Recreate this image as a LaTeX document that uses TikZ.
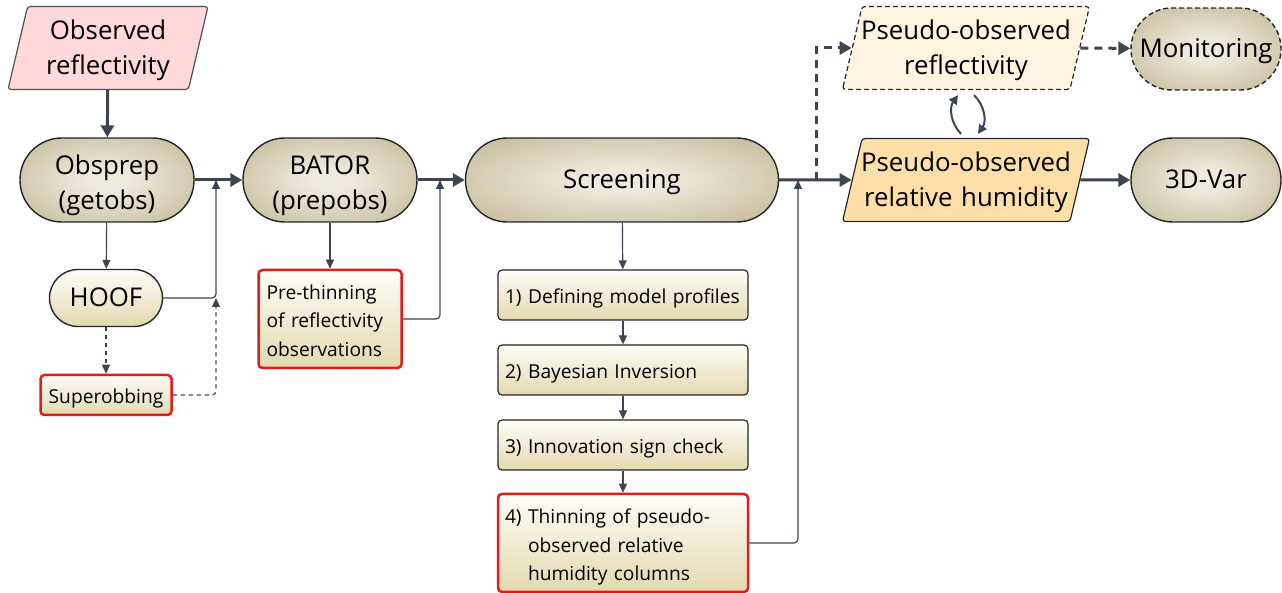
\documentclass[tikz,border=0pt]{standalone}
\usepackage{fontspec}
\setmainfont{Open Sans}
\usetikzlibrary{arrows.meta,shapes.geometric}

\definecolor{lineclr}{HTML}{3E4452}
\definecolor{edgeclr}{HTML}{262626}
\definecolor{obsfill}{HTML}{FFD8DA}
\definecolor{reflfill}{HTML}{FFF4DF}
\definecolor{rhfill}{HTML}{FFDFA8}
\definecolor{olivein}{HTML}{EFEADE}
\definecolor{oliveout}{HTML}{ADA171}
\definecolor{boxtop}{HTML}{FEFDF8}
\definecolor{boxbot}{HTML}{E3D9B0}
\definecolor{redclr}{HTML}{E31B1D}

\pgfdeclareradialshading{olive}{\pgfpoint{0bp}{0bp}}{color(0bp)=(olivein); color(6bp)=(olivein); color(50bp)=(oliveout); color(72bp)=(oliveout)}

\tikzset{
  bigtext/.style={font=\fontsize{12.9}{17.5}\selectfont,
    execute at begin node={\rule{0pt}{13pt}}, execute at end node={\rule[-4pt]{0pt}{4pt}}},
  twoline/.style={text width=80pt, align=center},
  smalltext/.style={font=\fontsize{9.6}{14.25}\selectfont,
    execute at begin node={\rule{0pt}{12.4pt}}, execute at end node={\rule[-3.5pt]{0pt}{3.5pt}}},
  slant/.style={trapezium, trapezium left angle=75, trapezium right angle=105,
    trapezium stretches body, minimum width=123.5pt, minimum height=41.5pt, inner xsep=-6pt, inner ysep=1pt,
    draw=edgeclr, line width=0.6pt, rounded corners=1.5pt, bigtext, twoline, text width=110pt},
  dashline/.style={dash pattern=on 2.5pt off 1.5pt},
  stadium/.style={rectangle, draw=edgeclr, line width=0.7pt, shading=olive, rounded corners=20.9pt,
    minimum width=87pt, minimum height=42pt, inner xsep=0pt, inner ysep=1pt, align=center, bigtext},
  stadtwo/.style={twoline, execute at begin node={\rule{0pt}{16pt}}},
  pill/.style={rectangle, draw=edgeclr, line width=0.7pt, rounded corners=14.2pt, inner ysep=1pt,
    top color=boxtop, bottom color=boxbot, minimum width=56.5pt, minimum height=28.5pt, bigtext},
  stepbox/.style={rectangle, draw=edgeclr, line width=0.6pt, rounded corners=2pt,
    top color=boxtop, bottom color=boxbot, minimum width=125pt, minimum height=25pt,
    inner xsep=3.5pt, inner ysep=1pt, text width=118pt, align=left, smalltext},
  redbox/.style={stepbox, draw=redclr, line width=1.25pt},
  main/.style={draw=lineclr, line width=1.5pt, -{Triangle[length=6pt,width=6.5pt]}},
  maindash/.style={main, dash pattern=on 4pt off 3pt},
  sub/.style={draw=lineclr, line width=0.6pt, rounded corners=2pt, -{Triangle[length=4.5pt,width=4pt]}},
  subdash/.style={sub, dash pattern=on 2pt off 2pt},
  curv/.style={draw=lineclr, line width=1pt, -{Triangle[length=4.5pt,width=4.5pt]}}
}

\begin{document}
\begin{tikzpicture}[x=0.5pt,y=-0.5pt]
\useasboundingbox (0,0) rectangle (1282,593);

% Main chain
\node[slant, fill=obsfill, minimum width=100pt, text width=80pt, draw=edgeclr!80] (obs) at (108,48) {Observed\\reflectivity};
\node[stadium, stadtwo] (obsprep) at (107,180) {Obsprep\\(getobs)};
\node[stadium, stadtwo] (bator) at (330,180) {BATOR\\(prepobs)};
\node[stadium, minimum width=156.5pt] (screen) at (622,180) {Screening};

% Side steps
\node[pill] (hoof) at (106,298) {HOOF};
\node[redbox, minimum width=65.5pt, minimum height=20pt, text width={}, align=center] (superob) at (106,395) {Superobbing};
\node[redbox, minimum width=71.5pt, minimum height=49pt, inner xsep=4pt, text width=63.5pt] (prethin) at (330,319) {Pre-thinning of reflectivity observations};

% Screening steps
\node[stepbox] (stepA) at (623,295) {1) Defining model profiles};
\node[stepbox] (stepB) at (623,370) {2) Bayesian Inversion};
\node[stepbox] (stepC) at (623,445) {3) Innovation sign check};
\node[redbox, minimum height=49pt] (stepD) at (623,543) {\rule{0pt}{13.4pt}\begin{tabular}[t]{@{}l@{\ }l@{}}4) & Thinning of pseudo-\\ & observed relative\\ & humidity columns\end{tabular}};

% Outputs
\node[slant, fill=reflfill, dashline] (refl) at (966,48) {Pseudo-observed\\reflectivity};
\node[slant, fill=rhfill] (rh) at (966,180) {Pseudo-observed\\relative humidity};
\node[stadium, minimum width=75pt, minimum height=41pt, rounded corners=20.4pt, dashline] (monit) at (1206,49) {Monitoring};
\node[stadium, minimum width=75pt] (var) at (1206,180) {3D-Var};

% Junctions on the main line
\coordinate (joinA) at (216,180);
\coordinate (joinAB) at (216,298);
\coordinate (joinB) at (440,180);
\coordinate (joinC) at (798,180);
\coordinate (joinD) at (816,180);

% Main arrows
\draw[main] (obs) -- (obsprep);
\draw[main] (obsprep) -- (bator);
\draw[main] (bator) -- (screen);
\draw[main] (screen) -- (rh.west);
\draw[main] (rh.east) -- (var);
\draw[maindash] (joinD) |- (refl.west);
\draw[maindash] (refl.east) -- (monit);

% Thin arrows
\draw[sub] (obsprep) -- (hoof);
\draw[sub] (hoof.east) -| (joinA);
\draw[subdash] (hoof) -- (superob);
\draw[subdash] (superob.east) -| (joinAB);
\draw[sub] (bator) -- (prethin);
\draw[sub] (prethin.east) -| (joinB);
\draw[sub] (screen) -- (stepA);
\draw[sub] (stepA) -- (stepB);
\draw[sub] (stepB) -- (stepC);
\draw[sub] (stepC) -- (stepD);
\draw[sub] (stepD.east) -| (joinC);

% Exchange between the two pseudo-observations
\draw[curv] ([xshift=-2.5pt,yshift=2pt]rh.north) to[bend left=40] ([xshift=-4pt,yshift=-2.5pt]refl.south);
\draw[curv] ([xshift=4pt,yshift=-2.5pt]refl.south) to[bend left=40] ([xshift=6pt,yshift=2pt]rh.north);

\end{tikzpicture}
\end{document}
